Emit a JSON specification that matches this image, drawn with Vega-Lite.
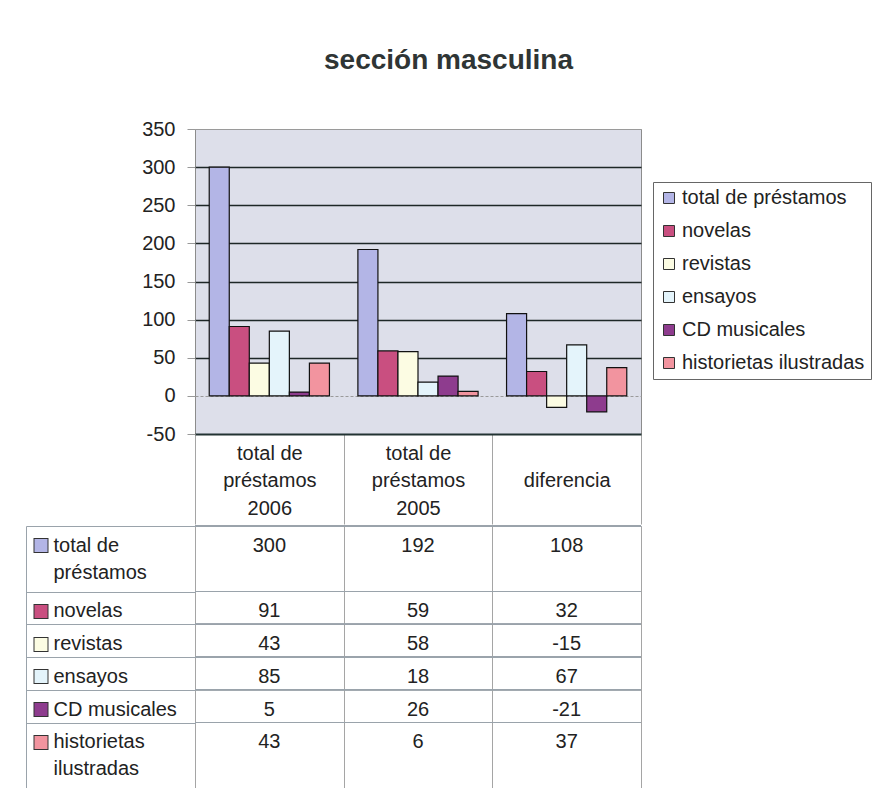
{
  "$schema": "https://vega.github.io/schema/vega-lite/v6.json",
  "background": "white",
  "padding": {"left": 25, "top": 46, "right": 0, "bottom": 0},
  "config": {
    "font": "Liberation Sans",
    "text": {"font": "Liberation Sans"}
  },
  "title": {
    "text": "sección masculina",
    "fontSize": 28,
    "fontWeight": "bold",
    "color": "#2f3535",
    "anchor": "middle",
    "frame": "bounds",
    "offset": 44
  },
  "datasets": {
    "prestamos": [
      {"serie": "total de préstamos", "grupo": "total de préstamos 2006", "valor": 300},
      {"serie": "total de préstamos", "grupo": "total de préstamos 2005", "valor": 192},
      {"serie": "total de préstamos", "grupo": "diferencia", "valor": 108},
      {"serie": "novelas", "grupo": "total de préstamos 2006", "valor": 91},
      {"serie": "novelas", "grupo": "total de préstamos 2005", "valor": 59},
      {"serie": "novelas", "grupo": "diferencia", "valor": 32},
      {"serie": "revistas", "grupo": "total de préstamos 2006", "valor": 43},
      {"serie": "revistas", "grupo": "total de préstamos 2005", "valor": 58},
      {"serie": "revistas", "grupo": "diferencia", "valor": -15},
      {"serie": "ensayos", "grupo": "total de préstamos 2006", "valor": 85},
      {"serie": "ensayos", "grupo": "total de préstamos 2005", "valor": 18},
      {"serie": "ensayos", "grupo": "diferencia", "valor": 67},
      {"serie": "CD musicales", "grupo": "total de préstamos 2006", "valor": 5},
      {"serie": "CD musicales", "grupo": "total de préstamos 2005", "valor": 26},
      {"serie": "CD musicales", "grupo": "diferencia", "valor": -21},
      {"serie": "historietas ilustradas", "grupo": "total de préstamos 2006", "valor": 43},
      {"serie": "historietas ilustradas", "grupo": "total de préstamos 2005", "valor": 6},
      {"serie": "historietas ilustradas", "grupo": "diferencia", "valor": 37}
    ]
  },
  "spacing": 0,
  "resolve": {"scale": {"x": "independent", "y": "independent", "color": "independent"}},
  "vconcat": [
    {
      "width": 446,
      "height": 305,
      "data": {"name": "prestamos"},
      "view": {"fill": "#dddfea", "stroke": "#8c8c8c"},
      "mark": {"type": "bar", "stroke": "#111111", "strokeWidth": 1.2},
      "encoding": {
        "x": {
          "field": "grupo", "type": "nominal",
          "sort": ["total de préstamos 2006", "total de préstamos 2005", "diferencia"],
          "scale": {"domain": ["total de préstamos 2006", "total de préstamos 2005", "diferencia"], "paddingInner": 0, "paddingOuter": 0},
          "axis": {
            "title": null,
            "orient": "bottom",
            "domain": true, "domainColor": "#223333", "domainWidth": 2,
            "ticks": true, "tickBand": "extent", "tickSize": 90, "tickColor": "#a5a5a5", "tickWidth": 1,
            "labelAngle": 0,
            "labelFontSize": 20, "labelColor": "#222222",
            "labelBaseline": "top", "labelLineHeight": 27.5,
            "labelPadding": -81,
            "labelOverlap": false, "labelFlush": false,
            "labelExpr": "datum.label === '' ? '' : datum.label === 'diferencia' ? ['', 'diferencia', ''] : ['total de', 'préstamos', slice(datum.label, -4)]",
            "grid": false
          }
        },
        "xOffset": {
          "field": "serie", "type": "nominal",
          "sort": ["total de préstamos", "novelas", "revistas", "ensayos", "CD musicales", "historietas ilustradas"],
          "scale": {"domain": ["total de préstamos", "novelas", "revistas", "ensayos", "CD musicales", "historietas ilustradas"], "paddingInner": 0, "paddingOuter": 0.71}
        },
        "y": {
          "field": "valor", "type": "quantitative",
          "scale": {"domain": [-50, 350], "nice": false},
          "axis": {
            "title": null,
            "values": [-50, 0, 50, 100, 150, 200, 250, 300, 350],
            "labelExpr": "datum.value + ''",
            "minExtent": 169,
            "domain": false,
            "ticks": true, "tickSize": 8, "tickColor": "#999999",
            "labelFontSize": 20, "labelColor": "#222222", "labelPadding": 12,
            "grid": true,
            "gridColor": {"condition": {"test": "datum.value === 0 || datum.value === 350 || datum.value === -50", "value": "#9a9a9a"}, "value": "#1d2727"},
            "gridWidth": {"condition": {"test": "datum.value === 0 || datum.value === 350 || datum.value === -50", "value": 1}, "value": 1.6},
            "gridDash": {"condition": {"test": "datum.value === 0", "value": [3, 2]}, "value": []}
          }
        },
        "color": {
          "field": "serie", "type": "nominal",
          "sort": ["total de préstamos", "novelas", "revistas", "ensayos", "CD musicales", "historietas ilustradas"],
          "scale": {
            "domain": ["total de préstamos", "novelas", "revistas", "ensayos", "CD musicales", "historietas ilustradas"],
            "range": ["#b3b5e6", "#c94f80", "#fcfce3", "#e4f4fb", "#8e3c8e", "#f2949f"]
          },
          "legend": {
            "orient": "none", "legendX": 458, "legendY": 53,
            "title": null,
            "symbolType": "square", "symbolSize": 121,
            "symbolStrokeColor": "#333333", "symbolStrokeWidth": 1,
            "labelFontSize": 20, "labelColor": "#222222", "labelLimit": 300, "labelOffset": 3,
            "rowPadding": 13, "padding": 6,
            "strokeColor": "#666666", "fillColor": "white"
          }
        }
      }
    },
    {
      "width": 446,
      "height": 262,
      "data": {"name": "prestamos"},
      "view": {"fill": "white", "stroke": "#9aa3ab"},
      "resolve": {"scale": {"y": "shared"}, "axis": {"y": "independent"}},
      "layer": [
        {
          "mark": {"type": "rule", "color": "#9aa3ab", "strokeWidth": 1},
          "encoding": {
            "y": {
              "field": "serie", "type": "nominal", "bandPosition": 0,
              "scale": {"domain": ["total de préstamos", "_1", "novelas", "revistas", "ensayos", "CD musicales", "historietas ilustradas", "_2"], "paddingInner": 0, "paddingOuter": 0},
              "axis": {
                "orient": "left", "title": null, "domain": false,
                "ticks": true, "tickBand": "extent", "tickSize": 169, "tickWidth": 1,
                "tickColor": {"condition": {"test": "datum.value === 'total de préstamos' || datum.value === 'historietas ilustradas'", "value": "transparent"}, "value": "#9aa3ab"},
                "labels": true, "labelAlign": "left", "labelBaseline": "top",
                "labelPadding": -27, "labelOffset": -7,
                "labelFontSize": 20, "labelColor": "#222222", "labelLineHeight": 27,
                "labelLimit": 200, "labelOverlap": false, "labelBound": false, "labelFlush": false,
                "labelExpr": "datum.label === 'total de préstamos' ? ['total de', 'préstamos'] : datum.label === 'historietas ilustradas' ? ['historietas', 'ilustradas'] : (datum.label === '_1' || datum.label === '_2') ? '' : datum.label",
                "grid": false
              }
            }
          }
        },
        {
          "mark": {"type": "text", "align": "center", "baseline": "top", "fontSize": 20, "color": "#222222"},
          "encoding": {
            "x": {
              "field": "grupo", "type": "nominal",
              "scale": {"domain": ["total de préstamos 2006", "total de préstamos 2005", "diferencia"], "paddingInner": 0, "paddingOuter": 0},
              "axis": {"title": null, "orient": "top", "labels": false, "ticks": false, "domain": false, "grid": true, "tickBand": "extent", "gridColor": "#a5a5a5", "gridWidth": 1}
            },
            "y": {
              "field": "serie", "type": "nominal", "bandPosition": 0.3,
              "axis": {
                "orient": "left", "title": null, "domain": false, "labels": false, "grid": false,
                "ticks": true, "bandPosition": 0.61, "offset": 147, "tickSize": 15, "tickWidth": 15,
                "tickColor": {"condition": {"test": "datum.value === '_1' || datum.value === '_2'", "value": "transparent"}, "value": "#333333"}
              }
            },
            "text": {"field": "valor", "type": "nominal"}
          }
        },
        {
          "mark": {"type": "rule", "color": "#9aa3ab", "strokeWidth": 1},
          "encoding": {
            "y": {
              "field": "serie", "type": "nominal", "bandPosition": 0,
              "axis": {
                "orient": "left", "title": null, "domain": false, "labels": false, "grid": false,
                "ticks": true, "bandPosition": 0.61, "offset": 148, "tickSize": 13, "tickWidth": 13, "zindex": 1,
                "tickColor": {
                  "condition": [
                    {"test": "datum.value === 'total de préstamos'", "value": "#b3b5e6"},
                    {"test": "datum.value === 'novelas'", "value": "#c94f80"},
                    {"test": "datum.value === 'revistas'", "value": "#fcfce3"},
                    {"test": "datum.value === 'ensayos'", "value": "#e4f4fb"},
                    {"test": "datum.value === 'CD musicales'", "value": "#8e3c8e"},
                    {"test": "datum.value === 'historietas ilustradas'", "value": "#f2949f"}
                  ],
                  "value": "transparent"
                }
              }
            }
          }
        },
        {
          "mark": {"type": "rule", "color": "#9aa3ab", "strokeWidth": 1},
          "encoding": {
            "y": {
              "field": "serie", "type": "nominal", "bandPosition": 0,
              "axis": {
                "orient": "left", "title": null, "labels": false, "ticks": false, "grid": false,
                "domain": true, "domainColor": "#9aa3ab", "domainWidth": 1, "offset": 169
              }
            }
          }
        }
      ]
    }
  ]
}
